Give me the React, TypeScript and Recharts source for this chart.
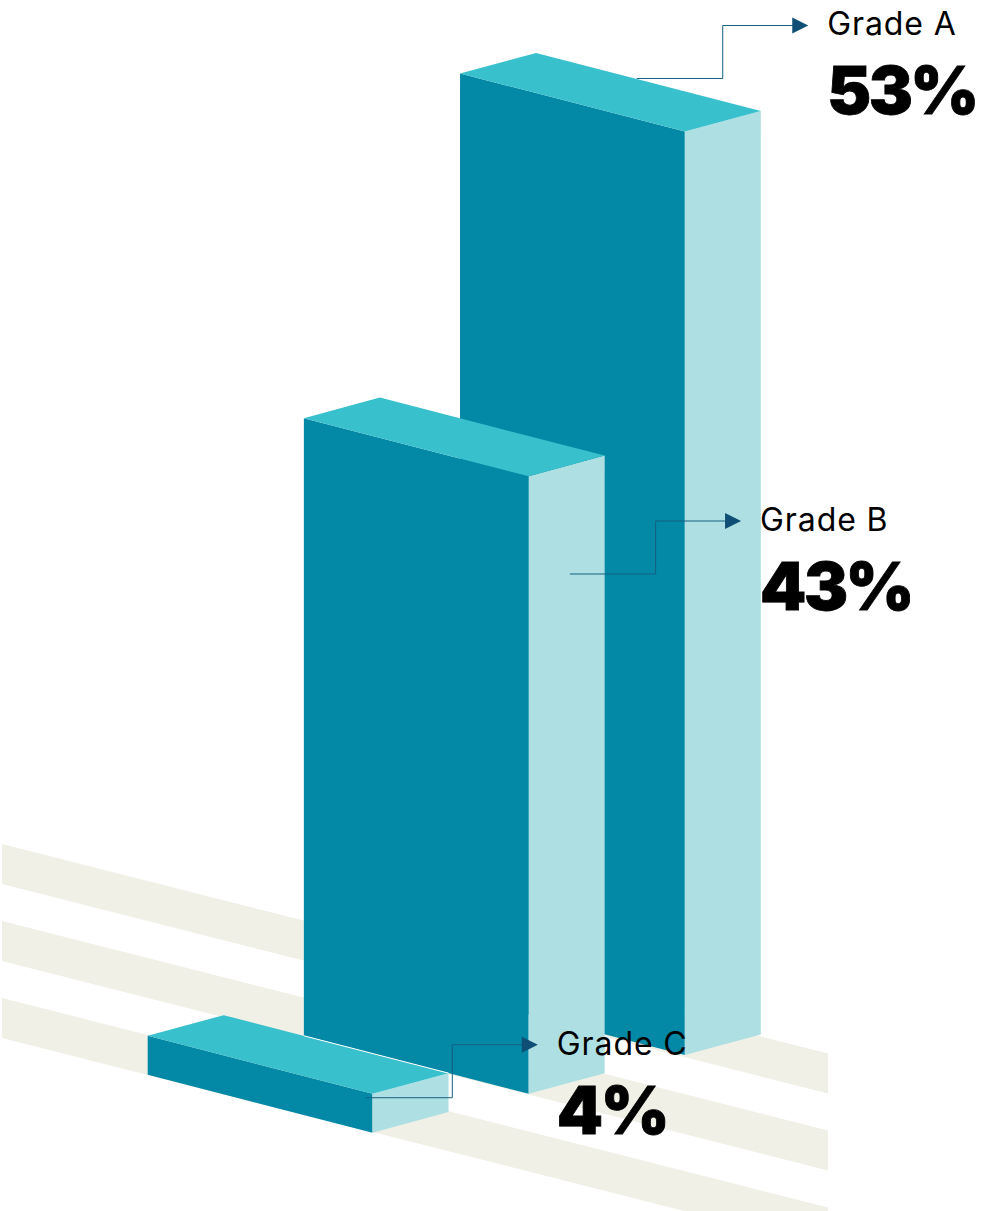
import { BarChart, Bar, XAxis, YAxis, LabelList } from "recharts";

const GRADES = ["Grade A", "Grade B", "Grade C"];
const SHARES = [53, 43, 4];

const chartData = GRADES.map((grade, i) => ({ grade, share: SHARES[i] }));

const COLORS = {
  front: "#0388A5",
  top: "#39C0CD",
  side: "#AEDFE3",
  floor: "#F0F0E6",
  leader: "#156082",
  arrow: "#0F4F75",
  text: "#000000",
};

const WIDTH = 985;
const HEIGHT = 1211;
const PLOT_TOP = 73;
const PLOT_HEIGHT = 923.5;

// isometric offsets of a block
const BAR_WIDTH = 224.8;
const FRONT_DROP = 58;
const DEPTH_X = 76;
const DEPTH_Y = -20.6;

// the floor line the blocks stand on, going up to the right
const FLOOR_LEFT_X = 147.7;
const FLOOR_LEFT_Y = 1074.7;
const FLOOR_SLOPE = -0.2488;

// the value axis is not linear: each stop maps a share to a fraction of the plot height
const SCALE_SHARES = [0, 4, 43, 53];
const SCALE_FRACTIONS = [0, 0.0422, 0.6688, 1];

function createStepScale(domain: number[] = [0, 53], range: number[] = [0, 1]) {
  const scale: any = (value: number) => {
    let i = 1;
    while (i < SCALE_SHARES.length - 1 && value > SCALE_SHARES[i]) i++;
    const t = (value - SCALE_SHARES[i - 1]) / (SCALE_SHARES[i] - SCALE_SHARES[i - 1]);
    const fraction = SCALE_FRACTIONS[i - 1] + t * (SCALE_FRACTIONS[i] - SCALE_FRACTIONS[i - 1]);
    return range[0] + fraction * (range[1] - range[0]);
  };
  scale.domain = (d?: number[]) => {
    if (!d) return domain;
    domain = d;
    return scale;
  };
  scale.range = (r?: number[]) => {
    if (!r) return range;
    range = r;
    return scale;
  };
  scale.ticks = () => SCALE_SHARES;
  scale.copy = () => createStepScale(domain, range);
  return scale;
}

const stepScale = createStepScale();

const pts = (list: number[][]) => list.map((p) => p.join(",")).join(" ");

// Draws one block: front, side and top faces, lifted onto the floor line
function IsoBar({ x, height, payload }: any) {
  const left = x;
  const right = left + BAR_WIDTH;
  const bottom = FLOOR_LEFT_Y + FLOOR_SLOPE * (left - FLOOR_LEFT_X);
  const top = bottom - height;

  const frontTL = [left, top];
  const frontTR = [right, top + FRONT_DROP];
  const frontBR = [right, bottom + FRONT_DROP];
  const frontBL = [left, bottom];
  const backTL = [left + DEPTH_X, top + DEPTH_Y];
  const backTR = [right + DEPTH_X, top + FRONT_DROP + DEPTH_Y];
  const backBR = [right + DEPTH_X, bottom + FRONT_DROP + DEPTH_Y];

  return (
    <g>
      <polygon points={pts([frontTL, frontTR, frontBR, frontBL])} fill={COLORS.front} />
      <polygon points={pts([frontTR, backTR, backBR, frontBR])} fill={COLORS.side} />
      <polygon points={pts([frontTL, backTL, backTR, frontTR])} fill={COLORS.top} />
      {/* thin seam where the low block meets the one behind it */}
      {payload.grade === "Grade C" && (
        <line x1={backTL[0] + 80} y1={backTL[1] + 20.6} x2={backTR[0]} y2={backTR[1]} stroke="#ffffff" strokeWidth={1} />
      )}
    </g>
  );
}

// leader offsets from each block's top left corner
const CALLOUT_OFFSETS = [
  { startX: 176.7, elbowX: 262.7, startY: 5 },
  { startX: 266, elbowX: 351.7, startY: 155.8 },
  { startX: 218.3, elbowX: 304.6, startY: 62 },
];

function Callout({ x, height, index, value }: any) {
  const offset = CALLOUT_OFFSETS[index];
  const bottom = FLOOR_LEFT_Y + FLOOR_SLOPE * (x - FLOOR_LEFT_X);
  const top = bottom - height;
  const startY = top + offset.startY;
  const arrowY = startY - 53;
  const elbowX = x + offset.elbowX;
  const tipX = elbowX + 85.5;
  const textX = tipX + 19;

  return (
    <g>
      <polyline
        points={pts([[x + offset.startX, startY], [elbowX, startY], [elbowX, arrowY], [tipX - 14, arrowY]])}
        fill="none"
        stroke={COLORS.leader}
        strokeWidth={1}
      />
      <polygon
        points={pts([[tipX - 16, arrowY - 8], [tipX, arrowY], [tipX - 16, arrowY + 8]])}
        fill={COLORS.arrow}
      />
      <text x={textX} y={arrowY + 10} fontFamily="Inter" fontSize={32} letterSpacing={0.9} fill={COLORS.text}>
        {GRADES[index]}
      </text>
      <text
        x={textX}
        y={arrowY + 89}
        fontFamily="Inter"
        fontWeight={900}
        fontSize={66}
        letterSpacing={-2.5}
        fill={COLORS.text}
        stroke={COLORS.text}
        strokeWidth={0.8}
      >
        {value}%
      </text>
    </g>
  );
}

// floor stripes behind the blocks
const STRIPE_LEFT = 2;
const STRIPE_RIGHT = 828;
const STRIPE_TOPS = [844, 921, 998];
const STRIPE_THICKNESS = 40;
const STRIPE_RISE = 209.5;

export default function App() {
  return (
    <div style={{ position: "absolute", left: 0, top: 0, width: WIDTH, height: HEIGHT, background: "#ffffff" }}>
      <BarChart
        width={WIDTH}
        height={HEIGHT}
        data={chartData}
        barSize={BAR_WIDTH}
        margin={{ top: PLOT_TOP, bottom: HEIGHT - PLOT_TOP - PLOT_HEIGHT, left: 139.7, right: 376.8 }}
      >
        {STRIPE_TOPS.map((y) => (
          <polygon
            key={y}
            fill={COLORS.floor}
            points={pts([
              [STRIPE_LEFT, y],
              [STRIPE_RIGHT, y + STRIPE_RISE],
              [STRIPE_RIGHT, y + STRIPE_RISE + STRIPE_THICKNESS],
              [STRIPE_LEFT, y + STRIPE_THICKNESS],
            ])}
          />
        ))}
        <XAxis dataKey="grade" type="category" reversed hide />
        <YAxis type="number" domain={[0, 53]} scale={stepScale} hide />
        <Bar dataKey="share" isAnimationActive={false} shape={IsoBar}>
          <LabelList dataKey="share" content={Callout} />
        </Bar>
      </BarChart>
    </div>
  );
}
